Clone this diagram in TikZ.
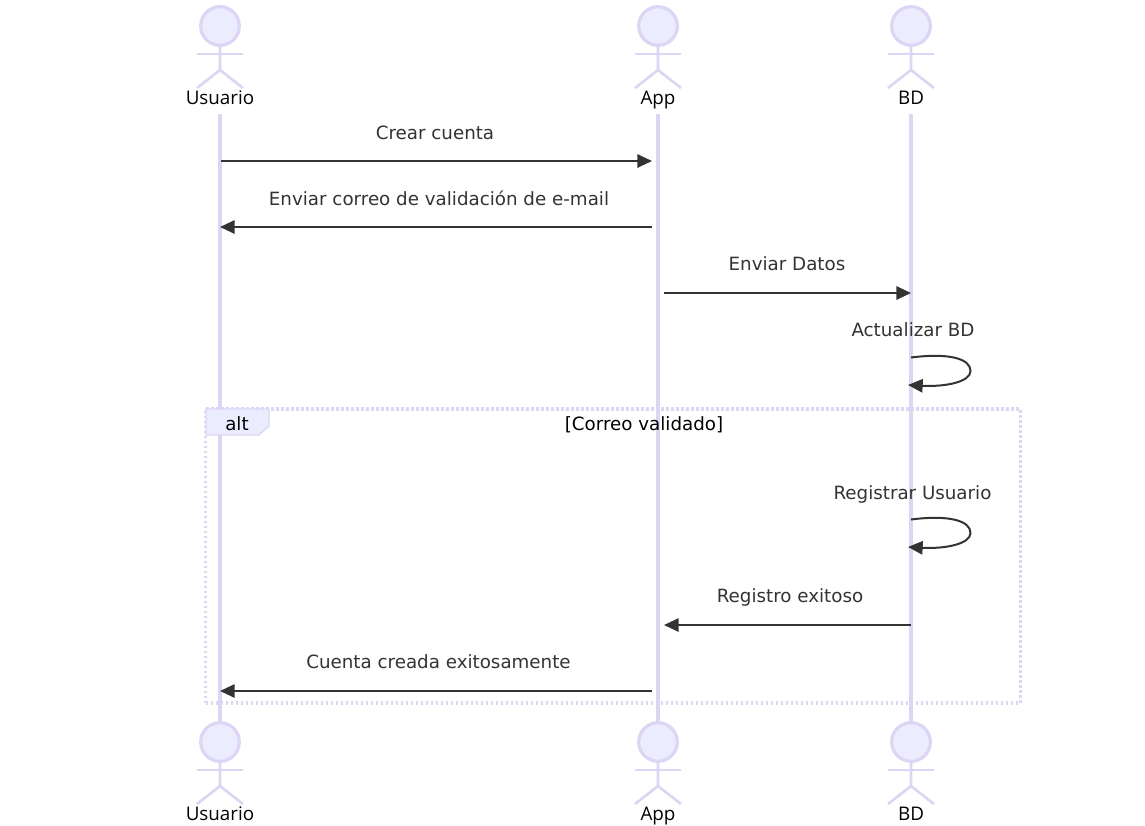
\documentclass[tikz,border=0pt]{standalone}
\usepackage{fontspec}
\setmainfont{DejaVu Sans}
\newfontfamily\actorfont{Open Sans}
\usetikzlibrary{arrows.meta}
\definecolor{actorline}{HTML}{DDD5F3}
\definecolor{actorfill}{HTML}{ECECFF}
\definecolor{msgcolor}{HTML}{333333}
\tikzset{
	actorname/.style={font=\actorfont\fontsize{14.1}{16}\selectfont, text=black, inner sep=0pt, text height=11pt, text depth=3pt},
	msgtext/.style={font=\fontsize{13.7}{16}\selectfont, text=msgcolor, inner sep=0pt, text height=10.5pt, text depth=3pt},
	msg/.style={draw=msgcolor, line width=1.5pt, -{Triangle[length=11pt,width=10pt]}},
	lifeline/.style={draw=actorline, line width=2.4pt},
	stick/.style={draw=actorline, line width=2pt},
	head/.style={circle, draw=actorline, fill=actorfill, line width=2.4pt, minimum size=29pt, inner sep=0pt},
}
\newcommand{\stickman}[4]{% name, x, y of head, text
	\draw[stick] (#2,#3+20) -- (#2,#3+44) -- (#2-23,#3+62);
	\draw[stick] (#2,#3+44) -- (#2+23,#3+62);
	\draw[stick] (#2-23,#3+28) -- (#2+23,#3+28);
	\node[head] (#1) at (#2,#3) {};
	\node[actorname] (#1Text) at (#2,#3+73.5) {#4};
}
\begin{document}
\begin{tikzpicture}[x=.75pt, y=-.75pt]
	\useasboundingbox (0,0) rectangle (1145,825);
	% life lines
	\coordinate (usuarioTop) at (220,114);
	\coordinate (appTop) at (658,114);
	\coordinate (bdTop) at (911,114);
	\coordinate (usuarioEnd) at (220,724);
	\coordinate (appEnd) at (658,724);
	\coordinate (bdEnd) at (911,724);
	\draw[lifeline] (usuarioTop) -- (usuarioEnd);
	\draw[lifeline] (appTop) -- (appEnd);
	\draw[lifeline] (bdTop) -- (bdEnd);
	\stickman{usuarioA}{220}{26}{Usuario}
	\stickman{appA}{658}{26}{App}
	\stickman{bdA}{911}{26}{BD}
	\stickman{usuarioB}{220}{742}{Usuario}
	\stickman{appB}{658}{742}{App}
	\stickman{bdB}{911}{742}{BD}
	% alt frame
	\node[draw=actorline, line width=2.3pt, dash pattern=on 2pt off 1.75pt, minimum width=611pt, minimum height=220.5pt, inner sep=0pt] (altFrame) at (613,556) {};
	\draw[draw=actorline, line width=1pt, fill=actorfill] (206,409) -- (269,409) -- (269,426) -- (259,435) -- (206,435) -- cycle;
	\node[msgtext, text=black] (altText) at (237,425.5) {alt};
	\node[msgtext, text=black] (altCond) at (644,425.5) {[Correo validado]};
	% messages
	\coordinate (m1a) at (221,161);
	\coordinate (m1b) at (652,161);
	\coordinate (m2a) at (652,227);
	\coordinate (m2b) at (220,227);
	\coordinate (m3a) at (664,293);
	\coordinate (m3b) at (911,293);
	\coordinate (m4a) at (911,357.5);
	\coordinate (m4b) at (908,385);
	\coordinate (m5a) at (911,519.5);
	\coordinate (m5b) at (908,547);
	\coordinate (m6a) at (911,625);
	\coordinate (m6b) at (664,625);
	\coordinate (m7a) at (652,691);
	\coordinate (m7b) at (220,691);
	\draw[msg] (m1a) -- (m1b);
	\draw[msg] (m2a) -- (m2b);
	\draw[msg] (m3a) -- (m3b);
	\draw[msg] (m4a) .. controls (950,352.5) and (970.5,359) .. (970.5,371) .. controls (970.5,382) and (945,387) .. (m4b);
	\draw[msg] (m5a) .. controls (950,514.5) and (970.5,521) .. (970.5,533) .. controls (970.5,544) and (945,549) .. (m5b);
	\draw[msg] (m6a) -- (m6b);
	\draw[msg] (m7a) -- (m7b);
	\node[msgtext] (crearText) at (435,134.5) {Crear cuenta};
	\node[msgtext] (correoText) at (439,200) {Enviar correo de validación de e-mail};
	\node[msgtext] (datosText) at (787,265.5) {Enviar Datos};
	\node[msgtext] (actualizarText) at (913,331.5) {Actualizar BD};
	\node[msgtext] (registrarText) at (912.5,494.5) {Registrar Usuario};
	\node[msgtext] (registroText) at (790,597.5) {Registro exitoso};
	\node[msgtext] (cuentaText) at (438.5,663.5) {Cuenta creada exitosamente};
\end{tikzpicture}
\end{document}
